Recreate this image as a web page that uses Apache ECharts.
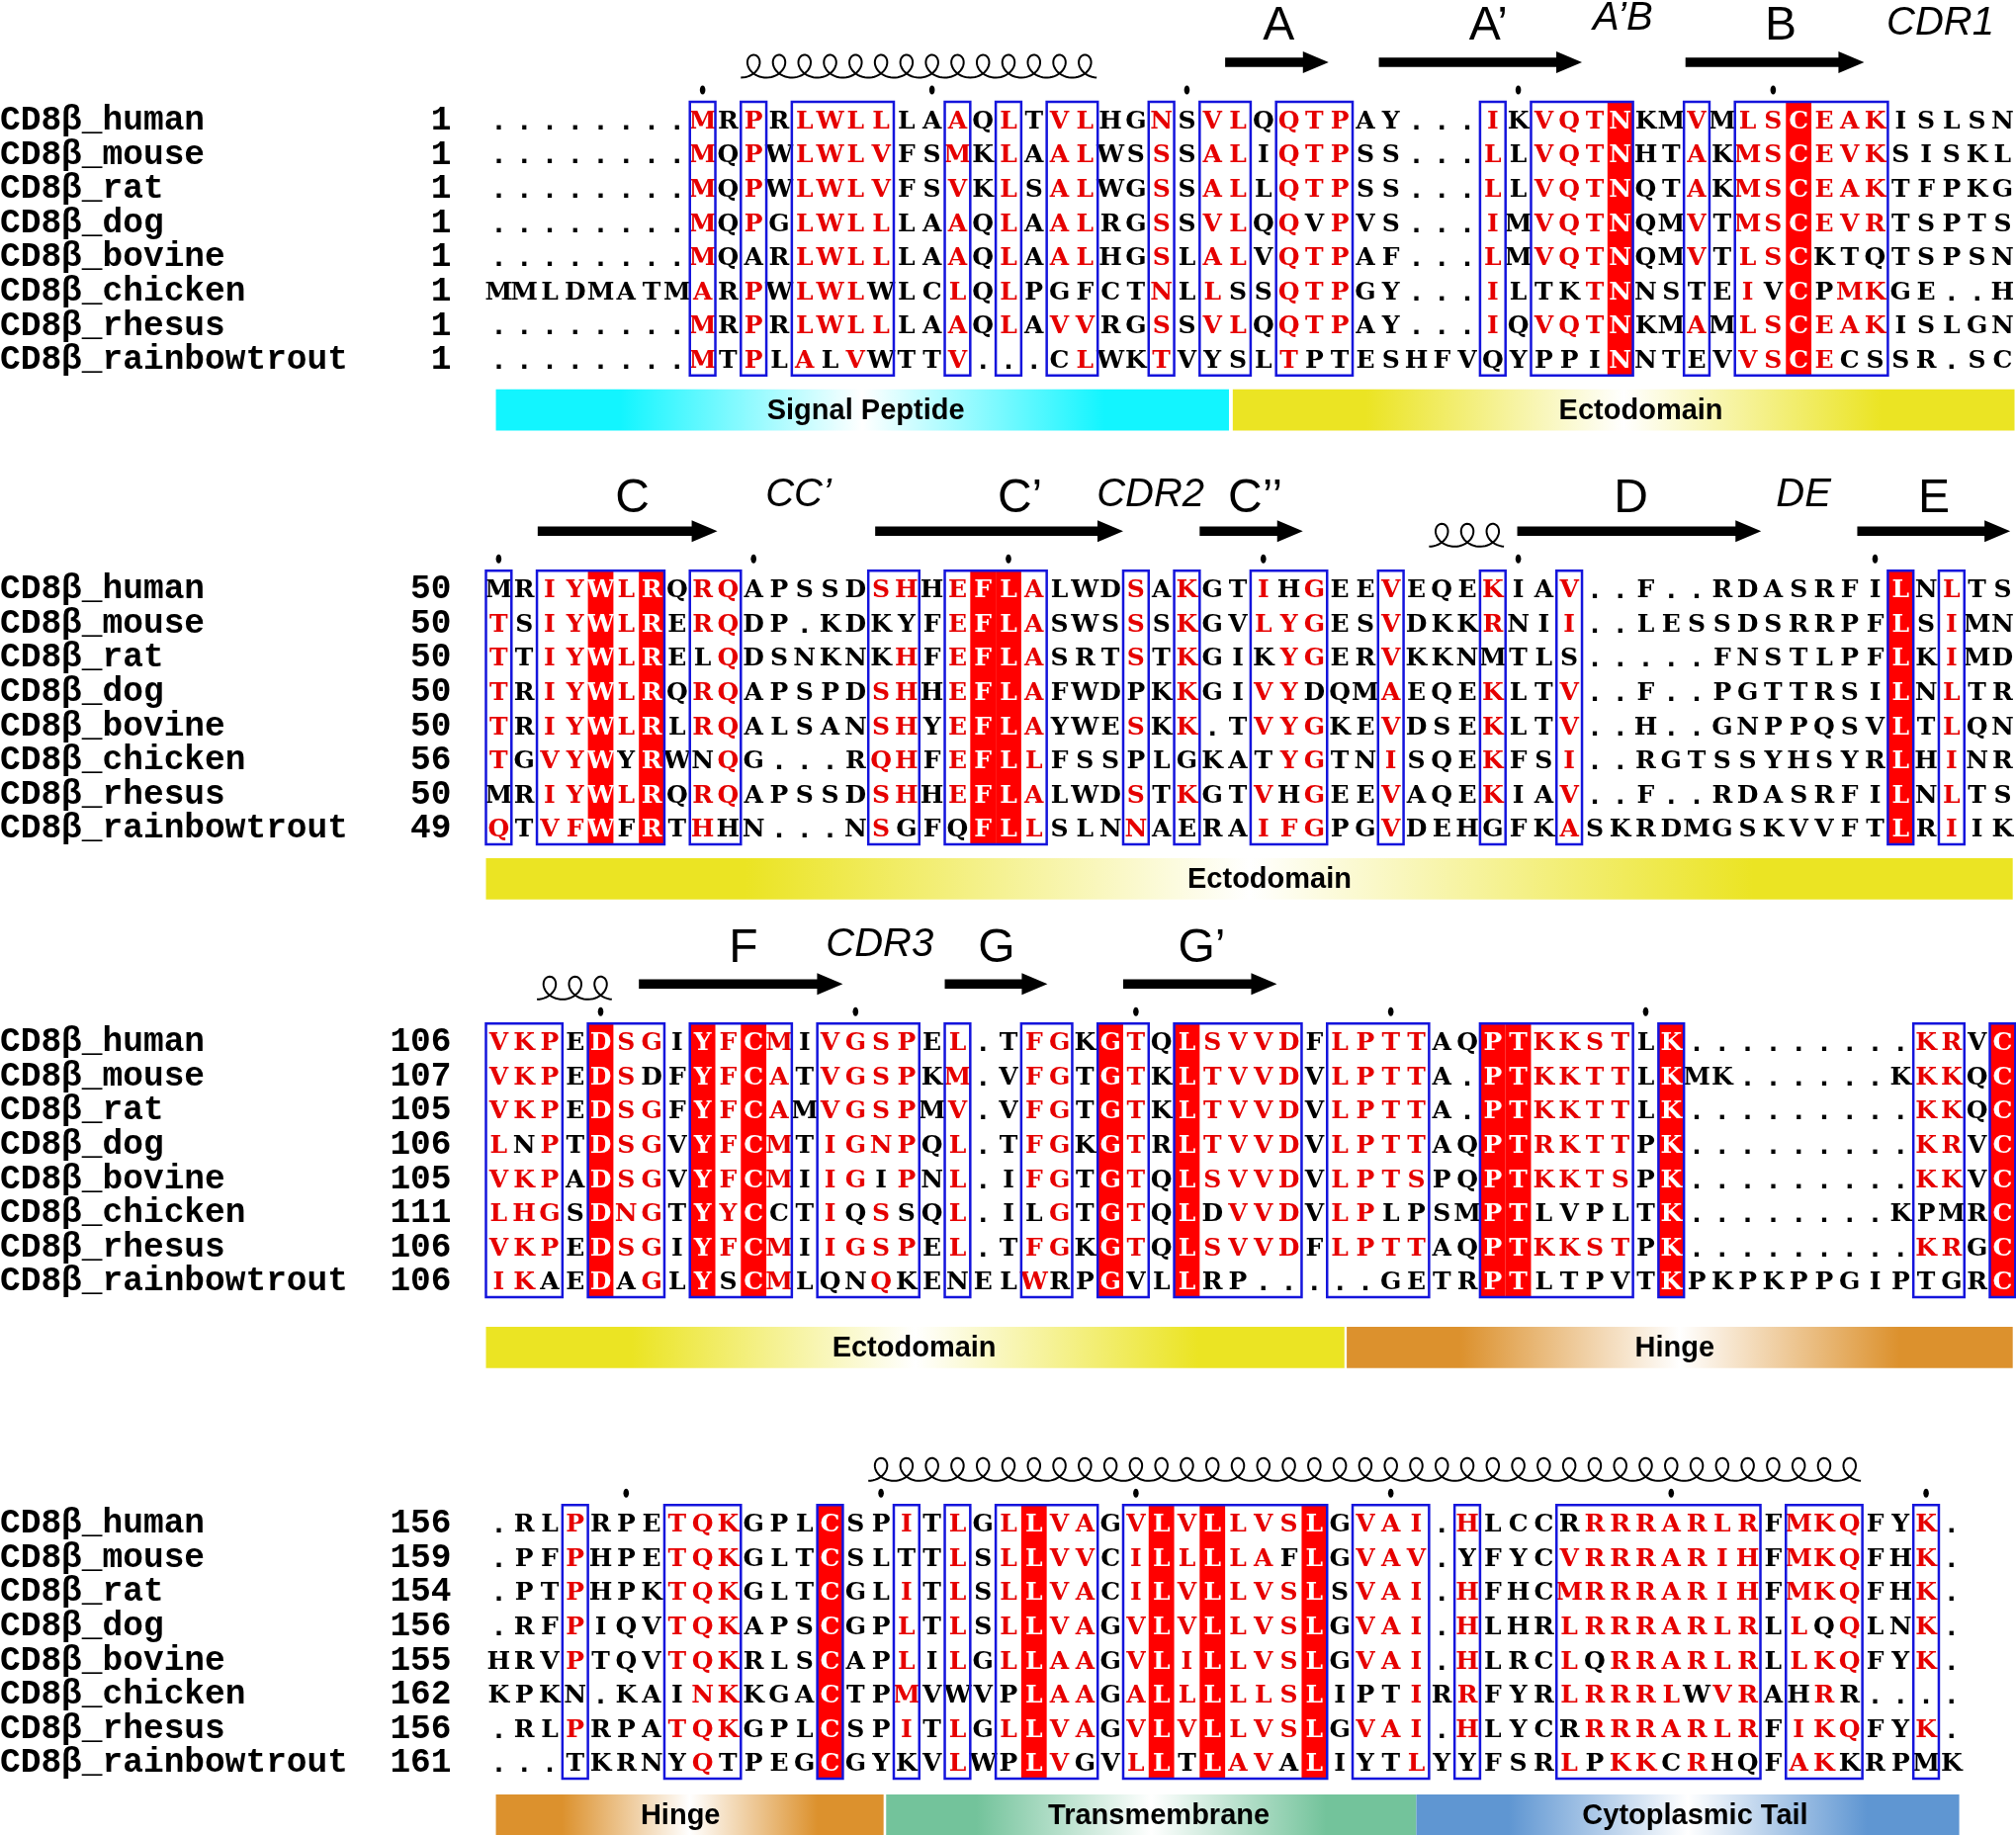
<!DOCTYPE html>
<html>
<head>
<meta charset="utf-8">
<title>CD8b alignment</title>
<style>
html,body{margin:0;padding:0;background:#fff}
#main{width:2039px;height:1856px}
</style>
<script src="https://cdn.jsdelivr.net/npm/echarts@6/dist/echarts.min.js"></script>
</head>
<body>
<div id="main"></div>
<script>
// species names, one row per species in every block
var species = ["CD8β_human","CD8β_mouse","CD8β_rat","CD8β_dog","CD8β_bovine","CD8β_chicken","CD8β_rhesus","CD8β_rainbowtrout"];

// residue numbers at the start of each block
var block1Start = [1,1,1,1,1,1,1,1];
var block2Start = [50,50,50,50,50,56,50,49];
var block3Start = [106,107,105,106,105,111,106,106];
var block4Start = [156,159,154,156,155,162,156,161];

// sequences: lower case = red letter, upper case = black letter
var block1Seq = [
"........mRpRlwllLAaQlTvlHGnSvlQqtpAY...iKvqtNKMvMlsCeakISLSN",
"........mQpWlwlvFSmKlAalWSsSalIqtpSS...lLvqtNHTaKmsCevkSISKL",
"........mQpWlwlvFSvKlSalWGsSalLqtpSS...lLvqtNQTaKmsCeakTFPKG",
"........mQpGlwllLAaQlAalRGsSvlQqVpVS...iMvqtNQMvTmsCevrTSPTS",
"........mQARlwllLAaQlAalHGsLalVqtpAF...lMvqtNQMvTlsCKTQTSPSN",
"MMLDMATMaRpWlwlWLClQlPGFCTnLlSSqtpGY...iLTKtNNSTEiVCPmkGE..H",
"........mRpRlwllLAaQlAvvRGsSvlQqtpAY...iQvqtNKMaMlsCeakISLGN",
"........mTpLaLvWTTv...ClWKtVYSLtPTESHFVQYPPINNTEVvsCeCSSR.SC"];
var block2Seq = [
"MRiyWlRQrqAPSSDshHeFLaLWDsAkGTiHgEEvEQEkIAv..F..RDASRFILNlTS",
"tSiyWlRErqDP.KDKYFeFLaSWSsSkGVlygESvDKKrNIi..LESSDSRRPFLSiMN",
"tTiyWlRELqDSNKNKhFeFLaSRTsTkGIKygERvKKNMTLS.....FNSTLPFLKiMD",
"tRiyWlRQrqAPSPDshHeFLaFWDPKkGIvyDQMaEQEkLTv..F..PGTTRSILNlTR",
"tRiyWlRLrqALSANshYeFLaYWEsKk.TvygKEvDSEkLTv..H..GNPPQSVLTlQN",
"tGvyWYRWNqG...RqhFeFLlFSSPLGKATygTNiSQEkFSi..RGTSSYHSYRLHiNR",
"MRiyWlRQrqAPSSDshHeFLaLWDsTkGTvHgEEvAQEkIAv..F..RDASRFILNlTS",
"qTvfWFRThHN...NsGFQFLlSLNnAERAifgPGvDEHGFKaSKRDMGSKVVFTLRiIK"];
var block3Seq = [
"vkpEDsgIYfCmIvgspEl.TfgKGtQLsvvdFlpttAQPTkkstLK.........krVC",
"vkpEDsDFYfCaTvgspKm.VfgTGtKLtvvdVlpttA.PTkkttLKMK......KkkQC",
"vkpEDsgFYfCaMvgspMv.VfgTGtKLtvvdVlpttA.PTkkttLK.........kkQC",
"lNpTDsgVYfCmTignpQl.TfgKGtRLtvvdVlpttAQPTrkttPK.........krVC",
"vkpADsgVYfCmIigIpNl.IfgTGtQLsvvdVlptsPQPTkktsPK.........kkVC",
"lhgSDngTYyCCTiQsSQl.ILgTGtQLDvvdVlpLPSMPTLVPLTK........KPMRC",
"vkpEDsgIYfCmIigspEl.TfgKGtQLsvvdFlpttAQPTkkstPK.........krGC",
"ikAEDAgLYSCmLQNqKENELwRPGVLLRP.....GETRPTLTPVTKPKPKPPGIPTGRC"];
var block4Seq = [
".RLpRPEtqkGPLCSPiTlGlLvaGvLvLlvsLGvai.hLCCRrrrarlrFmkqFYk.",
".PFpHPEtqkGLTCSLTTlSlLvvCiLlLlaFLGvav.YFYCvrrrarihFmkqFHk.",
".PTpHPKtqkGLTCGLiTlSlLvaCiLvLlvsLSvai.hFHCmrrrarihFmkqFHk.",
".RFpIQVtqkAPSCGPlTlSlLvaGvLvLlvsLGvai.hLHRlrrrarlrLlQqLNk.",
"HRVpTQVtqkRLSCAPlIlGlLaaGvLiLlvsLGvai.hLRClQrrarlrLlkqFYk.",
"KPKN.KAInkKGACTPmVWVPLaaGaLlLllsLIPTiRrFYRlrrrlWvrAHrR....",
".RLpRPAtqkGPLCSPiTlGlLvaGvLvLlvsLGvai.hLYCRrrrarlrFikqFYk.",
"...TKRNYqTPEGCGYKVlWPLvGVlLTLavALIYTlYYFSRlPkkCrHQFakKRPMK"];

// columns filled red
var block1Solid = [44,51];
var block2Solid = [4,6,19,20,55];
var block3Solid = [4,8,10,24,27,39,40,46,59];
var block4Solid = [13,21,26,28,32];

// blue boxes, first and last column
var block1Boxes = [[8,8],[10,10],[12,15],[18,18],[20,20],[22,23],[26,26],[28,29],[31,33],[39,39],[41,44],[47,47],[49,54]];
var block2Boxes = [[0,0],[2,6],[8,9],[15,16],[18,21],[25,25],[27,27],[30,32],[35,35],[39,39],[42,42],[55,55],[57,57]];
var block3Boxes = [[0,2],[4,6],[8,11],[13,16],[18,18],[21,22],[24,25],[27,31],[33,36],[39,44],[46,46],[56,57],[59,59]];
var block4Boxes = [[3,3],[7,9],[13,13],[16,16],[18,18],[20,23],[25,32],[34,36],[38,38],[42,49],[51,53],[56,56]];

// the small dots above every tenth residue
var block1Dots = [8,17,27,40,50];
var block2Dots = [0,10,20,30,40,54];
var block3Dots = [4,14,25,35,45];
var block4Dots = [5,15,25,35,46,56];

// helices, first and last column
var block1Coils = [[10,23]];
var block2Coils = [[37,39]];
var block3Coils = [[2,4]];
var block4Coils = [[15,53]];

// beta strands, start and end in column units
var block1Arrows = [[29,33.06],[35.03,43],[47.06,54.07]];
var block2Arrows = [[2.03,9.08],[15.27,25],[28,32.05],[40.46,50.03],[53.8,59.8]];
var block3Arrows = [[6,14],[18,22.03],[25,31.03]];
var block4Arrows = [];

// strand and loop names: text, centre column, italic
var block1Labels = [["A",31.1,0],["A’",39.33,0],["A’B",44.6,1],["B",50.8,0],["CDR1",57.06,1]];
var block2Labels = [["C",5.74,0],["CC’",12.26,1],["C’",20.95,0],["CDR2",26.07,1],["C’’",30.18,0],["D",44.92,0],["DE",51.69,1],["E",56.81,0]];
var block3Labels = [["F",10.1,0],["CDR3",15.45,1],["G",20.03,0],["G’",28.08,0]];
var block4Labels = [];

// domains under each block: name, start column, end column, text column
var block1Bands = [["Signal Peptide",0.39,29.15,14.9],["Ectodomain",29.3,59.97,45.31]];
var block2Bands = [["Ectodomain",0,59.9,30.74]];
var block3Bands = [["Ectodomain",0,33.68,16.8],["Hinge",33.77,59.9,46.64]];
var block4Bands = [["Hinge",0.39,15.6,7.63],["Transmembrane",15.7,36.5,26.4],["Cytoplasmic Tail",36.5,57.8,47.44]];

var domainColor = {
	"Signal Peptide":"#12f5ff",
	"Ectodomain":"#ebe423",
	"Hinge":"#dc912d",
	"Transmembrane":"#73c39b",
	"Cytoplasmic Tail":"#5f96d2"
};

var blocks = [
	{seq:block1Seq,start:block1Start,solid:block1Solid,boxes:block1Boxes,dots:block1Dots,coils:block1Coils,arrows:block1Arrows,labels:block1Labels,bands:block1Bands},
	{seq:block2Seq,start:block2Start,solid:block2Solid,boxes:block2Boxes,dots:block2Dots,coils:block2Coils,arrows:block2Arrows,labels:block2Labels,bands:block2Bands},
	{seq:block3Seq,start:block3Start,solid:block3Solid,boxes:block3Boxes,dots:block3Dots,coils:block3Coils,arrows:block3Arrows,labels:block3Labels,bands:block3Bands},
	{seq:block4Seq,start:block4Start,solid:block4Solid,boxes:block4Boxes,dots:block4Dots,coils:block4Coils,arrows:block4Arrows,labels:block4Labels,bands:block4Bands}
];

// layout, in pixels
var gridLeft = 491.5, colWidth = 25.78, rowHeight = 34.6;
var blockTop = [103,577.3,1035.3,1522.3];
var bandGap = [14,14,30,16];
var labelLift = [79,76,79,0];
var bandHeight = 41.7;
var nameRight = 35;

var mono = '"Liberation Mono"', sans = '"Liberation Sans"', serif = '"DejaVu Serif"';

var grids = [], xAxes = [], yAxes = [], series = [];

// one custom series; rows hold [x, y] so the axes stay in charge of the position
function addCustom(i, rows, z, draw) {
	series.push({
		type:"custom",
		coordinateSystem:"cartesian2d",
		xAxisIndex:i,
		yAxisIndex:i,
		silent:true,
		animation:false,
		z:z,
		clip:false,
		encode:{x:0,y:1},
		data:rows.map(function(r,k){return [r.x,r.y||0,k];}),
		renderItem:function(params,api){
			return draw(rows[params.dataIndex],api);
		}
	});
}

function yTop(api) { return api.coord([0,0])[1]-rowHeight/2; }

blocks.forEach(function(b,i){
	var cols = b.seq[0].length;
	grids.push({left:gridLeft,top:blockTop[i],width:cols*colWidth,height:rowHeight*8,outerBoundsMode:"none"});
	xAxes.push({type:"value",gridIndex:i,min:0,max:cols,show:false});
	yAxes.push({type:"category",gridIndex:i,data:species,inverse:true,show:false});

	// species names and start numbers
	var heads = [];
	species.forEach(function(s,row){
		heads.push({x:0,y:row,name:s,num:String(b.start[row])});
	});
	addCustom(i,heads,2,function(r,api){
		var p = api.coord([0,r.y]);
		var font = 'bold 34.5px '+mono;
		return {type:"group",children:[
			{type:"text",style:{x:0,y:p[1]+2,text:r.name,fill:"#000",font:font,align:"left",verticalAlign:"middle"}},
			{type:"text",style:{x:p[0]-nameRight,y:p[1]+2,text:r.num,fill:"#000",font:font,align:"right",verticalAlign:"middle"}}
		]};
	});

	// red columns
	addCustom(i,b.solid.map(function(c){return {x:c};}),1,function(r,api){
		var p = api.coord([r.x,0]), q = api.coord([r.x+1,0]), t = yTop(api);
		return {type:"rect",shape:{x:p[0],y:t,width:q[0]-p[0],height:rowHeight*8},style:{fill:"#f00"}};
	});

	// letters
	var cells = [];
	b.seq.forEach(function(s,row){
		for(var c=0;c<s.length;c++) {
			var ch = s.charAt(c);
			var color = "#000";
			if(b.solid.indexOf(c)>=0) color = "#fff";
			else if(ch!="." && ch==ch.toLowerCase()) color = "#e60000";
			cells.push({x:c+0.5,y:row,ch:ch.toUpperCase(),color:color});
		}
	});
	addCustom(i,cells,2,function(r,api){
		var p = api.coord([r.x,r.y]);
		var font = r.ch=="." ? 'bold 30px '+mono : 'bold 25px '+serif;
		return {type:"text",style:{x:p[0],y:p[1]+3,text:r.ch,fill:r.color,font:font,align:"center",verticalAlign:"middle"}};
	});

	// blue boxes
	addCustom(i,b.boxes.map(function(c){return {x:c[0],end:c[1]};}),3,function(r,api){
		var p = api.coord([r.x,0]), q = api.coord([r.end+1,0]), t = yTop(api);
		return {type:"rect",shape:{x:p[0],y:t,width:q[0]-p[0],height:rowHeight*8},style:{fill:null,stroke:"#1414dc",lineWidth:2.5}};
	});

	// dots
	addCustom(i,b.dots.map(function(c){return {x:c+0.5};}),3,function(r,api){
		var p = api.coord([r.x,0]), t = yTop(api);
		return {type:"ellipse",shape:{cx:p[0],cy:t-12,rx:2.8,ry:4.5},style:{fill:"#000"}};
	});

	// helices
	addCustom(i,b.coils.map(function(c){return {x:c[0]+0.5,end:c[1]+0.5};}),3,function(r,api){
		var p = api.coord([r.x,0]), q = api.coord([r.end,0]), t = yTop(api);
		var step = colWidth/(2*Math.PI), pts = [];
		var last = (q[0]-p[0])/step+Math.PI;
		for(var a=-Math.PI;a<=last;a+=0.15) {
			pts.push([p[0]+step*a-12*Math.sin(a),t-36-11.5*Math.cos(a)]);
		}
		return {type:"polyline",shape:{points:pts},style:{fill:null,stroke:"#000",lineWidth:2}};
	});

	// strands
	addCustom(i,b.arrows.map(function(c){return {x:c[0],end:c[1]};}),3,function(r,api){
		var p = api.coord([r.x,0]), q = api.coord([r.end,0]), y = yTop(api)-40, h = q[0]-26;
		return {type:"polygon",shape:{points:[[p[0],y-4.7],[h,y-4.7],[h,y-11],[q[0],y],[h,y+11],[h,y+4.7],[p[0],y+4.7]]},style:{fill:"#000"}};
	});

	// strand names
	addCustom(i,b.labels.map(function(c){return {x:c[1],text:c[0],italic:c[2]};}),3,function(r,api){
		var p = api.coord([r.x,0]), t = yTop(api);
		var font = r.italic ? 'italic 40px '+sans : '48px '+sans;
		var y = t-labelLift[i]+(r.italic ? 0 : 3);
		if(r.text=="A’B") y -= 5;
		return {type:"text",style:{x:p[0],y:y,text:r.text,fill:"#000",font:font,align:"center",verticalAlign:"middle"}};
	});

	// domain bands
	addCustom(i,b.bands.map(function(c){return {x:c[1],end:c[2],mid:c[3],name:c[0]};}),3,function(r,api){
		var p = api.coord([r.x,0]), q = api.coord([r.end,0]), m = api.coord([r.mid,0]);
		var t = yTop(api)+rowHeight*8+bandGap[i], c = domainColor[r.name];
		return {type:"group",children:[
			{type:"rect",shape:{x:p[0],y:t,width:q[0]-p[0],height:bandHeight},style:{
				fill:new echarts.graphic.LinearGradient(0,0,1,0,[
					{offset:0,color:c},{offset:0.17,color:c},{offset:0.5,color:"#fff"},{offset:0.83,color:c},{offset:1,color:c}
				])}},
			{type:"text",style:{x:m[0],y:t+bandHeight/2+1,text:r.name,fill:"#000",font:'bold 29px '+sans,align:"center",verticalAlign:"middle"}}
		]};
	});
});

var chart = echarts.init(document.getElementById("main"));
chart.setOption({
	backgroundColor:"#fff",
	animation:false,
	grid:grids,
	xAxis:xAxes,
	yAxis:yAxes,
	series:series
});
</script>
</body>
</html>
